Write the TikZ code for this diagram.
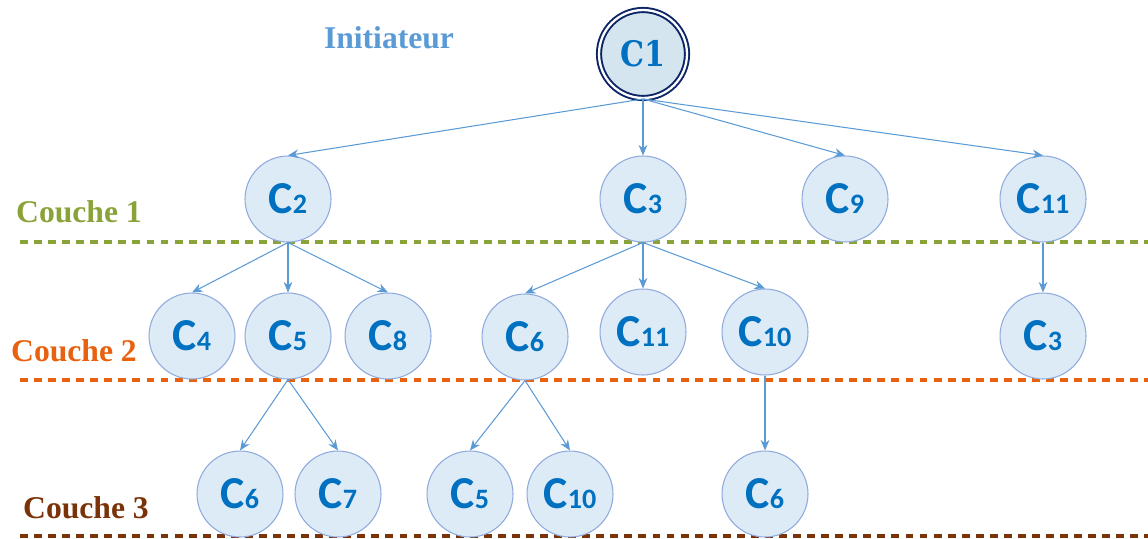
\documentclass[tikz,border=0pt]{standalone}
\usepackage{fontspec}
\setmainfont{Liberation Serif}
\newfontfamily\nodefont{Carlito}
\newfontfamily\rootfont[FakeStretch=0.86]{DejaVu Serif}
\usetikzlibrary{arrows.meta}
\definecolor{nodefill}{HTML}{DDEBF7}
\definecolor{nodeline}{HTML}{8FAADC}
\definecolor{nodetext}{HTML}{0070C0}
\definecolor{rootfill}{HTML}{D5E5F0}
\definecolor{rootline}{HTML}{0B2466}
\definecolor{edgecol}{HTML}{5B9BD5}
\definecolor{layerone}{HTML}{8AA339}
\definecolor{layertwo}{HTML}{E8610E}
\definecolor{layerthree}{HTML}{7A3208}
\newcommand{\cname}[1]{{\fontsize{26}{26}\selectfont C}{\fontsize{16}{16}\selectfont #1}}
\tikzset{
  cnode/.style={circle,fill=nodefill,draw=nodeline,line width=.6pt,
    minimum size=1.72cm,inner sep=0pt,text=nodetext,font=\nodefont\bfseries},
  rootnode/.style={circle,fill=rootfill,draw=rootline,line width=1.1pt,
    double=white,double distance=1.3pt,minimum size=1.76cm,inner sep=0pt,
    text=nodetext,font=\rootfont\bfseries\fontsize{20}{20}\selectfont},
  link/.style={draw=edgecol,line width=.6pt,-{Stealth[length=6pt,width=5pt]}},
  layer/.style={line width=2pt,dash pattern=on 4.5pt off 3.5pt},
  layertext/.style={font=\bfseries\fontsize{18}{18}\selectfont,anchor=center}
}
\begin{document}
\begin{tikzpicture}[x=0.02cm,y=-0.02cm]
  \useasboundingbox (0,0) rectangle (1148,538);
  % layers
  \draw[layer,layerone] (20,242) -- (1148,242);
  \draw[layer,layertwo] (20,380) -- (1148,380);
  \draw[layer,layerthree] (20,536) -- (1148,536);
  \node[layertext,text=edgecol] (init) at (389,38) {Initiateur};
  \node[layertext,text=layerone] (lab1) at (79,212) {Couche 1};
  \node[layertext,text=layertwo] (lab2) at (74,351) {Couche 2};
  \node[layertext,text=layerthree] (lab3) at (86,508) {Couche 3};
  % initiator
  \node[rootnode] (c1) at (643,54) {C1};
  % couche 1
  \node[cnode] (c2) at (288,199) {\cname{2}};
  \node[cnode] (c3) at (643,199) {\cname{3}};
  \node[cnode] (c9) at (845,199) {\cname{9}};
  \node[cnode] (c11) at (1043,199) {\cname{11}};
  % couche 2
  \node[cnode] (c4) at (192,336) {\cname{4}};
  \node[cnode] (c5) at (288,336) {\cname{5}};
  \node[cnode] (c8) at (388,336) {\cname{8}};
  \node[cnode] (c6) at (525,337) {\cname{6}};
  \node[cnode] (c11b) at (643,332) {\cname{11}};
  \node[cnode] (c10) at (765,332) {\cname{10}};
  \node[cnode] (c3b) at (1043,336) {\cname{3}};
  % couche 3
  \node[cnode] (c6b) at (240,494) {\cname{6}};
  \node[cnode] (c7) at (338,494) {\cname{7}};
  \node[cnode] (c5b) at (470,494) {\cname{5}};
  \node[cnode] (c10b) at (570,494) {\cname{10}};
  \node[cnode] (c6c) at (765,494) {\cname{6}};
  % links
  \foreach \child in {c2,c3,c9,c11}
    \draw[link] (c1.south) -- (\child.north);
  \foreach \child in {c4,c5,c8}
    \draw[link] (c2.south) -- (\child.north);
  \foreach \child in {c6,c11b,c10}
    \draw[link] (c3.south) -- (\child.north);
  \draw[link] (c11.south) -- (c3b.north);
  \foreach \child in {c6b,c7}
    \draw[link] (c5.south) -- (\child.north);
  \foreach \child in {c5b,c10b}
    \draw[link] (c6.south) -- (\child.north);
  \draw[link] (c10.south) -- (c6c.north);
\end{tikzpicture}
\end{document}
